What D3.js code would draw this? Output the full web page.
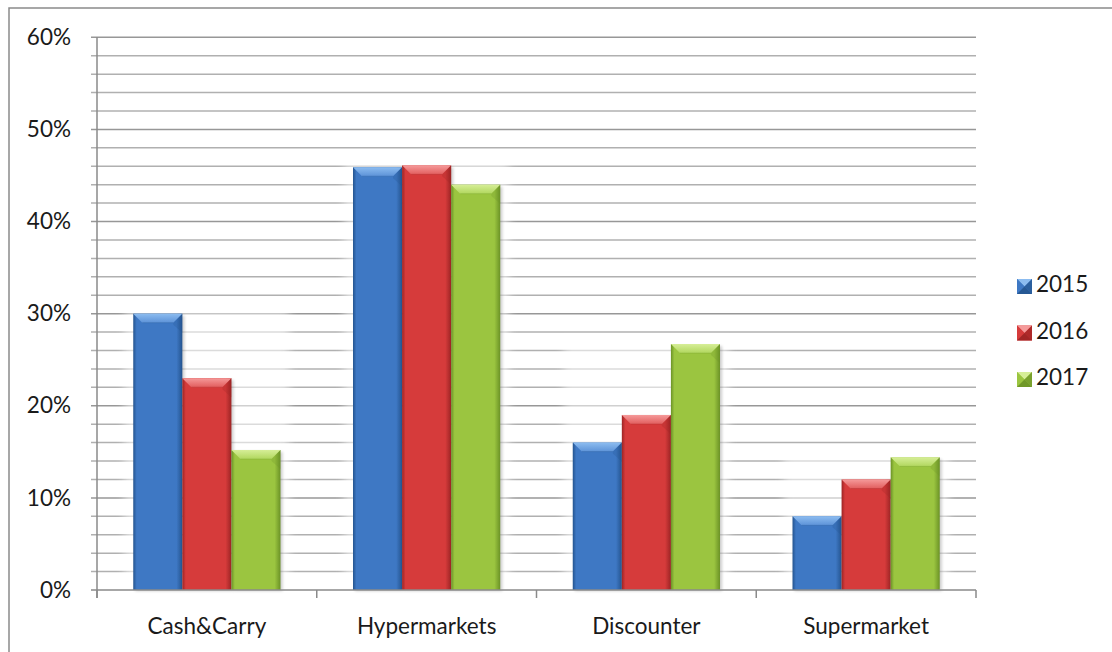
<!DOCTYPE html>
<html>
<head>
<meta charset="utf-8">
<script src="https://cdn.jsdelivr.net/npm/d3@7"></script>
<style>
  html, body { margin: 0; padding: 0; background: #fff; }
  svg { display: block; }
  text { font-family: Lato, "Open Sans", sans-serif; fill: #1a1a1a; }
</style>
</head>
<body>
<svg id="chart" width="1112" height="652"></svg>
<script>
// Market share by store format, 2015-2017
const categories = ["Cash&Carry", "Hypermarkets", "Discounter", "Supermarket"];
const years = ["2015", "2016", "2017"];
const share2015 = [30.0, 45.9, 16.0, 8.0];
const share2016 = [23.0, 46.1, 19.0, 12.0];
const share2017 = [15.2, 44.0, 26.7, 14.4];
const majorTicks = [0, 10, 20, 30, 40, 50, 60];
const minorTicks = d3.range(0, 61, 2);

const seriesValues = [share2015, share2016, share2017];

// base / light / dark tones for each year's bars
const palette = [
  { base: "#3e78c4", light: "#8cbcf0", mid: "#5d93d8", dark: "#24548f" },
  { base: "#d63b3b", light: "#f59a9a", mid: "#e25e5e", dark: "#9c2424" },
  { base: "#9bc540", light: "#d6ee97", mid: "#b1d75e", dark: "#6b9226" }
];

const svg = d3.select("#chart");
const plot = { left: 97, right: 976, top: 37.3, bottom: 590 };

const y = d3.scaleLinear().domain([0, 60]).range([plot.bottom, plot.top]);
const x0 = d3.scaleBand().domain(categories).range([plot.left, plot.right])
  .paddingInner(0.33).paddingOuter(0.165);
const x1 = d3.scaleBand().domain(years).range([0, x0.bandwidth()]).padding(0);

// outer frame of the chart area
svg.append("path")
  .attr("d", "M9,660 L9,8 L1120,8")
  .attr("fill", "none").attr("stroke", "#8a8a8a").attr("stroke-width", 1.5);

const defs = svg.append("defs");

palette.forEach((c, i) => {
  const h = defs.append("linearGradient").attr("id", "body" + i)
    .attr("x1", 0).attr("x2", 1).attr("y1", 0).attr("y2", 0);
  h.append("stop").attr("offset", 0).attr("stop-color", c.dark);
  h.append("stop").attr("offset", 0.07).attr("stop-color", c.base);
  h.append("stop").attr("offset", 0.5).attr("stop-color", c.base);
  h.append("stop").attr("offset", 0.88).attr("stop-color", c.base);
  h.append("stop").attr("offset", 1).attr("stop-color", c.dark);

  const t = defs.append("linearGradient").attr("id", "top" + i)
    .attr("x1", 0).attr("x2", 0).attr("y1", 0).attr("y2", 1);
  t.append("stop").attr("offset", 0).attr("stop-color", c.light);
  t.append("stop").attr("offset", 1).attr("stop-color", c.mid);
});

const glow = defs.append("filter").attr("id", "glow")
  .attr("x", "-50%").attr("y", "-20%").attr("width", "200%").attr("height", "140%");
glow.append("feGaussianBlur").attr("stdDeviation", 4);

const shadow = defs.append("filter").attr("id", "shadow")
  .attr("x", "-30%").attr("y", "-10%").attr("width", "160%").attr("height", "120%");
shadow.append("feGaussianBlur").attr("stdDeviation", 1.5);

// gridlines: minor every 2%, major every 10%
const grid = svg.append("g");
grid.selectAll("line.minor")
  .data(minorTicks.filter(v => v % 10 !== 0))
  .join("line")
  .attr("x1", plot.left - 6).attr("x2", plot.right)
  .attr("y1", d => y(d)).attr("y2", d => y(d))
  .attr("stroke", "#b0b0b0").attr("stroke-width", 1.5);
grid.selectAll("line.major")
  .data(majorTicks.filter(v => v > 0))
  .join("line")
  .attr("x1", plot.left - 6).attr("x2", plot.right)
  .attr("y1", d => y(d)).attr("y2", d => y(d))
  .attr("stroke", "#979797").attr("stroke-width", 1.5);

// y axis line + labels
const yAxis = d3.axisLeft(y).tickValues(majorTicks).tickFormat(d => d + "%")
  .tickSize(0).tickPadding(26);
const gy = svg.append("g").attr("transform", `translate(${plot.left},0)`).call(yAxis);
gy.select(".domain").remove();
gy.selectAll("text").style("font-size", "22.5px").style("font-family", "Lato, sans-serif")
  .attr("fill", "#1a1a1a");
svg.append("line").attr("x1", plot.left).attr("x2", plot.left)
  .attr("y1", plot.top).attr("y2", plot.bottom + 8)
  .attr("stroke", "#8a8a8a").attr("stroke-width", 1.5);
svg.append("line").attr("x1", plot.left - 6).attr("x2", plot.left)
  .attr("y1", plot.bottom).attr("y2", plot.bottom)
  .attr("stroke", "#8a8a8a").attr("stroke-width", 1.5);

// bars
const bars = svg.append("g");
const groups = bars.selectAll("g.cat")
  .data(categories.map((c, ci) => ({ c, ci })))
  .join("g")
  .attr("transform", d => `translate(${x0(d.c)},0)`);

// light halo behind each group
groups.append("rect")
  .attr("x", -9).attr("width", x0.bandwidth() + 18)
  .attr("y", d => y(d3.max(seriesValues, s => s[d.ci])) - 4)
  .attr("height", d => plot.bottom - y(d3.max(seriesValues, s => s[d.ci])) + 4)
  .attr("fill", "#fff").attr("opacity", 0.55).attr("filter", "url(#glow)");

const bevel = 9;
groups.each(function (d) {
  const g = d3.select(this);
  years.forEach((yr, si) => {
    const v = seriesValues[si][d.ci];
    const bx = x1(yr), bw = x1.bandwidth();
    const top = y(v), bot = y(0);
    const c = palette[si];
    // soft shadow to the lower right
    g.append("rect").attr("x", bx + 2).attr("y", top + 2).attr("width", bw)
      .attr("height", bot - top - 1).attr("fill", "#000").attr("opacity", 0.2)
      .attr("filter", "url(#shadow)");
    // bar body
    g.append("rect").attr("x", bx).attr("y", top).attr("width", bw)
      .attr("height", bot - top).attr("fill", `url(#body${si})`);
    // top bevel face
    const bh = Math.min(bevel, (bot - top) / 2);
    g.append("path")
      .attr("d", `M${bx},${top} L${bx + bw},${top} L${bx + bw - bevel},${top + bh} L${bx + bevel},${top + bh} Z`)
      .attr("fill", `url(#top${si})`);
    // darker side faces just under the bevel corners
    g.append("path")
      .attr("d", `M${bx + bw},${top} L${bx + bw - bevel},${top + bh} L${bx + bw - bevel},${top + bh + 2} L${bx + bw},${top + bh + 10} Z`)
      .attr("fill", c.dark).attr("opacity", 0.25);
    g.append("line").attr("x1", bx + bevel).attr("x2", bx + bw - bevel)
      .attr("y1", top + bh).attr("y2", top + bh)
      .attr("stroke", c.dark).attr("stroke-width", 0.8).attr("opacity", 0.35);
  });
});

// x axis
const xAxis = d3.axisBottom(x0).tickSize(0).tickPadding(28);
const gx = svg.append("g").attr("transform", `translate(0,${plot.bottom})`).call(xAxis);
gx.select(".domain").remove();
gx.selectAll("text").style("font-size", "22.5px").style("font-family", "Lato, sans-serif")
  .attr("fill", "#1a1a1a");
svg.append("line").attr("x1", plot.left).attr("x2", plot.right)
  .attr("y1", plot.bottom).attr("y2", plot.bottom)
  .attr("stroke", "#8a8a8a").attr("stroke-width", 1.5);
svg.append("g").selectAll("line")
  .data(d3.range(categories.length + 1))
  .join("line")
  .attr("x1", i => plot.left + i * (plot.right - plot.left) / categories.length)
  .attr("x2", i => plot.left + i * (plot.right - plot.left) / categories.length)
  .attr("y1", plot.bottom).attr("y2", plot.bottom + 8)
  .attr("stroke", "#8a8a8a").attr("stroke-width", 1.5);

// legend
const legend = svg.append("g").attr("transform", "translate(1017,279)");
const item = legend.selectAll("g").data(years).join("g")
  .attr("transform", (d, i) => `translate(0,${i * 46.5})`);
const sq = 15;
item.each(function (yr, i) {
  const g = d3.select(this);
  const c = palette[i];
  const cx = sq / 2, cy = sq / 2;
  g.append("rect").attr("width", sq).attr("height", sq).attr("fill", c.base);
  g.append("path").attr("d", `M0,0 L${sq},0 L${cx},${cy} Z`).attr("fill", c.light);
  g.append("path").attr("d", `M0,0 L${cx},${cy} L0,${sq} Z`).attr("fill", c.base);
  g.append("path").attr("d", `M${sq},0 L${cx},${cy} L${sq},${sq} Z`).attr("fill", c.dark).attr("opacity", 0.7);
  g.append("path").attr("d", `M0,${sq} L${cx},${cy} L${sq},${sq} Z`).attr("fill", c.dark).attr("opacity", 0.9);
  g.append("text").attr("x", 19).attr("y", cy - 2).attr("dy", "0.35em")
    .style("font-size", "22.5px").text(yr);
});
</script>
</body>
</html>
